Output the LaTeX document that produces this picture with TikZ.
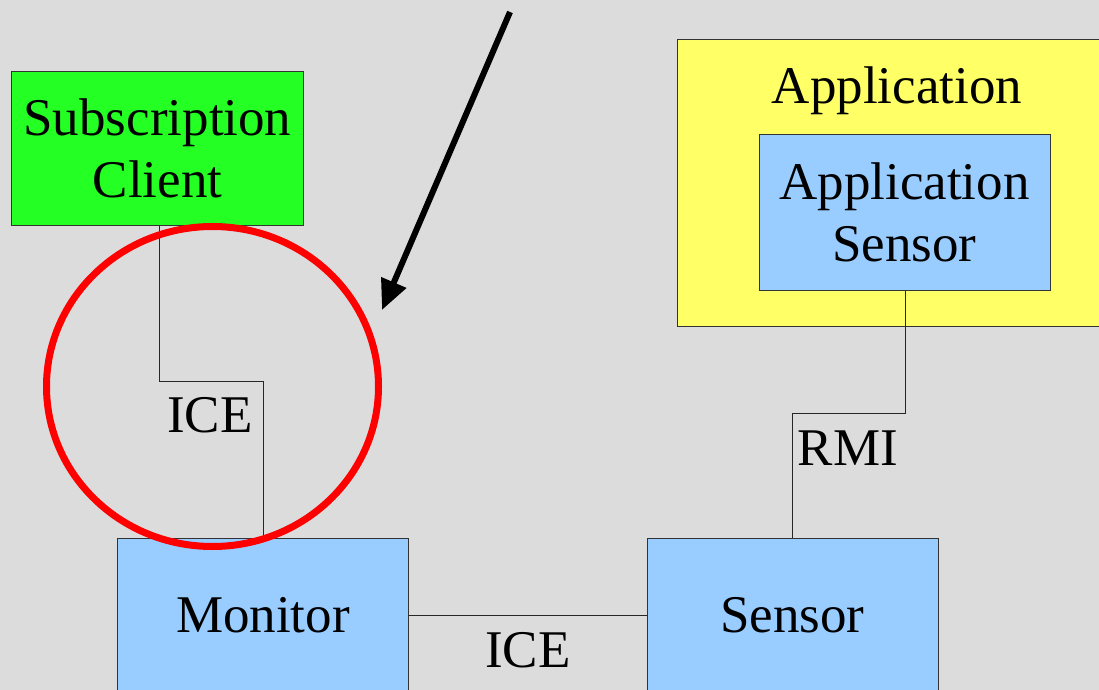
\documentclass[tikz,border=0pt]{standalone}
\usepackage{fontspec}
\setmainfont{Liberation Serif}
\usetikzlibrary{arrows.meta,calc}
\definecolor{bgcol}{HTML}{DCDCDC}
\definecolor{boxgreen}{HTML}{24FF24}
\definecolor{boxyellow}{HTML}{FFFF66}
\definecolor{boxblue}{HTML}{99CCFF}
\definecolor{ringred}{HTML}{FF0000}
\definecolor{edgegray}{HTML}{333333}
\tikzset{
  bigtext/.style={font=\fontsize{53bp}{62bp}\selectfont},
  compbox/.style={draw=edgegray, line width=1bp, inner sep=0pt, align=center, bigtext},
  conn/.style={draw=black!85, line width=1bp},
  lbl/.style={inner sep=0pt, bigtext},
}
\begin{document}
\begin{tikzpicture}[x=1bp,y=-1bp]
\useasboundingbox (0,0) rectangle (1099,690);
\clip (0,0) rectangle (1099,690);
\fill[bgcol] (0,0) rectangle (1099,690);
% boxes
\node[compbox, fill=boxgreen, minimum width=291bp, minimum height=153bp] (sub) at (157.5,148.5) {Subscription\\Client};
\node[draw=edgegray, line width=1bp, fill=boxyellow, minimum width=433bp, minimum height=286bp, inner sep=0pt] (app) at (893.5,183) {};
\node[lbl] (apptitle) at (897,91) {Application};
\node[compbox, fill=boxblue, minimum width=291bp, minimum height=155bp] (appsens) at (904.5,212.5) {Application\\Sensor};
\node[compbox, fill=boxblue, minimum width=290bp, minimum height=154bp] (mon) at (263,615) {Monitor};
\node[compbox, fill=boxblue, minimum width=291bp, minimum height=154bp] (sens) at (792.5,615) {Sensor};
% connectors
\coordinate (k1) at (159,381);
\coordinate (k2) at (905,413);
\draw[conn] (sub.south -| k1) -- (k1) -| (mon.north);
\draw[conn] (appsens.south -| k2) -- (k2) -| (sens.north);
\draw[conn] (mon.east) -- (sens.west);
% labels
\node[lbl] (ice1) at (210,415) {ICE};
\node[lbl] (rmi) at (848,448) {RMI};
\node[lbl] (ice2) at (528,650) {ICE};
% highlight
\draw[ringred, line width=7bp] (212.5,386.5) ellipse [x radius=166, y radius=160];
\coordinate (arrstart) at (510,12);
\coordinate (arrend) at (382,310);
\draw[line width=6bp, -{Triangle[length=30bp,width=26bp]}] (arrstart) -- (arrend);
\end{tikzpicture}
\end{document}
